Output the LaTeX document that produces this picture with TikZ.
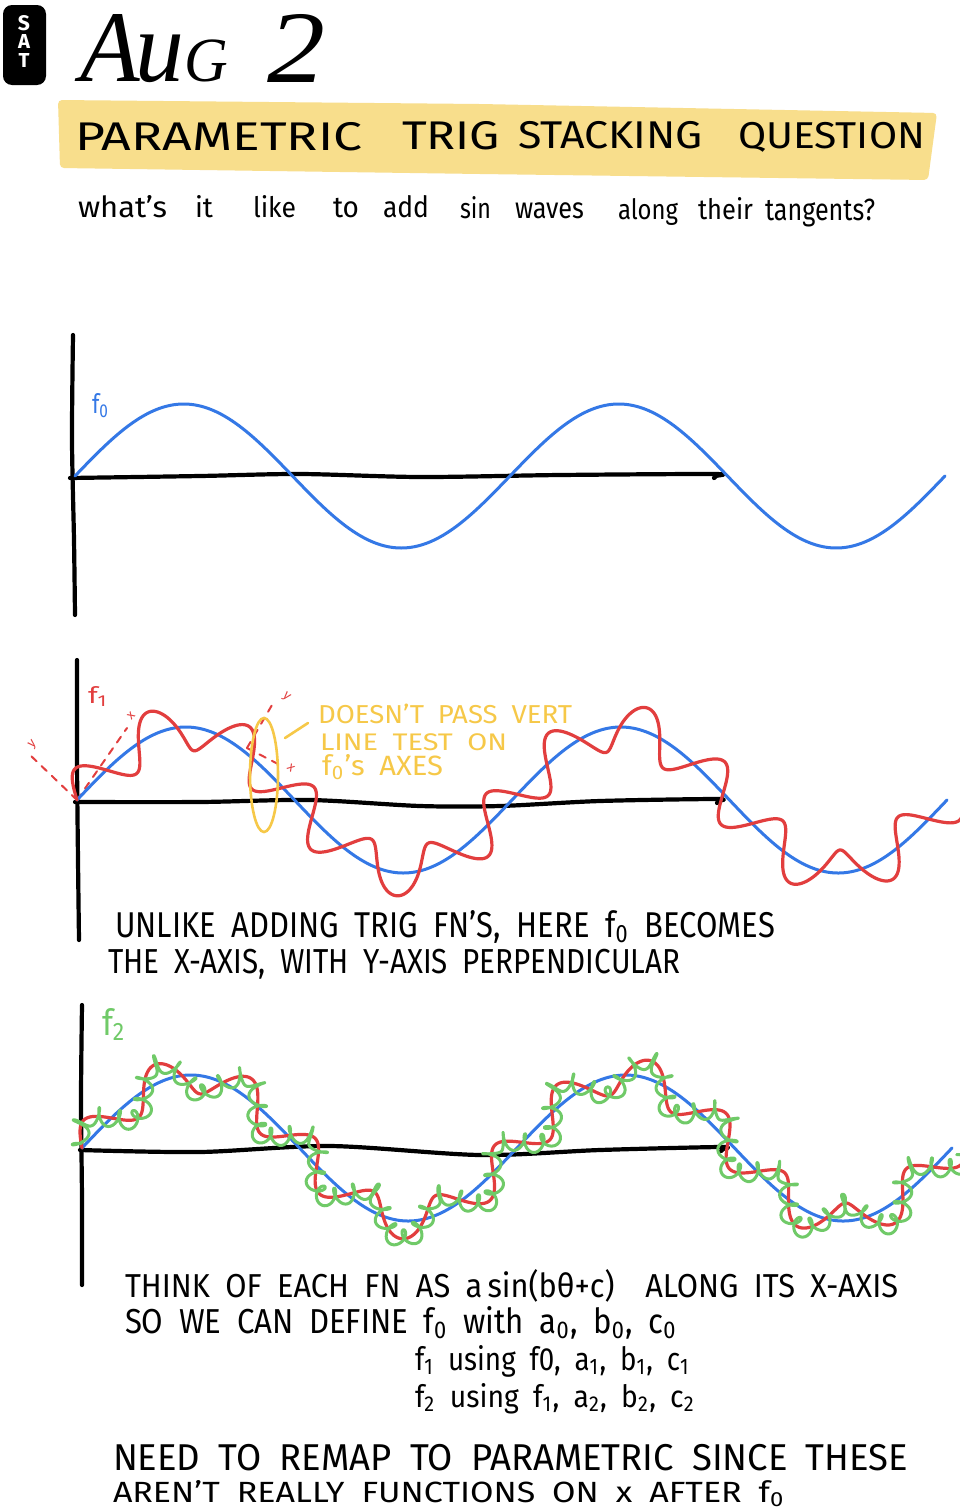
\documentclass[tikz,border=0pt]{standalone}
\usepackage{fontspec}
\usepackage{graphicx}
\setmainfont{Fira Sans}
\newfontfamily\datefont{Liberation Serif}
\definecolor{cblue}{RGB}{52,120,230}
\definecolor{cred}{RGB}{226,62,62}
\definecolor{cgreen}{RGB}{112,202,104}
\definecolor{cyellow}{RGB}{246,200,72}
\definecolor{chigh}{RGB}{248,222,140}

\newif\ifwfirst
\newcommand\hwt[3]{\resizebox{#1pt}{#2pt}{\spaceskip=0.5em\relax\vphantom{l}#3}}

\newcommand\wred{%
  \pgfmathsetmacro\wphone{\wsb/\wlone*360}%
  \pgfmathsetmacro\wh{\waone*sin(\wphone)}%
  \pgfmathsetmacro\whp{\waone*6.283185/\wlone*cos(\wphone)*\wL}%
  \pgfmathsetmacro\wRx{\wu-(\wh)*(\wg)/\wL}%
  \pgfmathsetmacro\wRy{\wv+(\wh)/\wL}%
}
\newcommand\wgreen{%
  \pgfmathsetmacro\wgp{-\wAkk*sin(\wth)}%
  \pgfmathsetmacro\wT{1-(\wh)*(\wgp)/(\wL*\wL*\wL)}%
  \pgfmathsetmacro\wDx{\wT-(\whp)*(\wg)/\wL}%
  \pgfmathsetmacro\wDy{\wT*(\wg)+(\whp)/\wL}%
  \pgfmathsetmacro\wsp{sqrt((\wDx)*(\wDx)+(\wDy)*(\wDy))}%
  \pgfmathsetmacro\wgr{\watwo*sin(\wph)/\wsp}%
  \pgfmathsetmacro\wgt{\wbtwo*cos(\wph)/\wsp}%
  \pgfmathsetmacro\wX{\wRx-(\wgr)*(\wDy)+(\wgt)*(\wDx)}%
  \pgfmathsetmacro\wY{\wRy+(\wgr)*(\wDx)+(\wgt)*(\wDy)}%
  \pgfmathsetmacro\wph{mod(\wph+\wsp*\wdu/\wltwo*360,360)}%
}
\newcommand\wavepath{%
  \pgfmathsetmacro\wAk{\wA*0.0144441}%
  \pgfmathsetmacro\wAkk{\wAk*0.0144441}%
  \def\wu{0}\def\wsb{0}\def\wph{0}%
  \wfirsttrue
  \loop
    \pgfmathsetmacro\wth{\wu*0.827586}%
    \pgfmathsetmacro\wv{\wA*sin(\wth)}%
    \pgfmathsetmacro\wg{\wAk*cos(\wth)}%
    \pgfmathsetmacro\wL{sqrt(1+(\wg)*(\wg))}%
    \ifcase\wmode\relax
      \let\wX\wu \let\wY\wv
    \or
      \wred \let\wX\wRx \let\wY\wRy
    \else
      \wred \wgreen
    \fi
    \ifwfirst\pgfpathmoveto{\pgfpoint{\wX pt}{\wY pt}}\wfirstfalse
    \else\pgfpathlineto{\pgfpoint{\wX pt}{\wY pt}}\fi
    \pgfmathsetmacro\wsb{\wsb+\wL*\wdu}%
    \pgfmathsetmacro\wu{\wu+\wdu}%
  \ifdim\wu pt<\wUend pt\relax
  \repeat
  \pgfusepath{stroke}%
}

\tikzset{
  axisline/.style={line width=4.2pt, line cap=round, line join=round, draw=black},
  txt/.style={anchor=base west, inner sep=0pt, outer sep=0pt},
  bluecurve/.style={color=cblue, line width=3pt, line cap=round, line join=round},
  redcurve/.style={color=cred, line width=3.2pt, line cap=round, line join=round},
  greencurve/.style={color=cgreen, line width=3pt, line cap=round, line join=round},
  reddash/.style={draw=cred, line width=2pt, dash pattern=on 7pt off 7pt, line cap=round},
  redlbl/.style={text=cred, inner sep=0pt, font=\fontsize{13}{13}\selectfont},
  yline/.style={draw=cyellow, line width=2.6pt, line cap=round},
}

\begin{document}
\begin{tikzpicture}[x=1pt, y=-1pt]
\useasboundingbox (0,0) rectangle (960,1510);
\fill[white] (0,0) rectangle (960,1510);

% ---------- header ----------
\fill[black, rounded corners=9pt] (3,5) rectangle (46,85);
\node[anchor=base, inner sep=0pt, text=white, font=\bfseries] (satS) at (24,30) {\resizebox{!}{15pt}{S}};
\node[anchor=base, inner sep=0pt, text=white, font=\bfseries] (satA) at (24,48) {\resizebox{!}{14pt}{A}};
\node[anchor=base, inner sep=0pt, text=white, font=\bfseries] (satT) at (24,67) {\resizebox{!}{14pt}{T}};
\node[txt] (aug) at (80,81) {\datefont\itshape\resizebox{148pt}{67pt}{A\kern-0.04em u\scalebox{0.62}{G}}};
\node[txt] (two) at (267,82) {\datefont\itshape\resizebox{58pt}{68pt}{2}};

\fill[chigh, rounded corners=4pt] (58,100) -- (480,104) -- (937,113) -- (928,180) -- (480,174) -- (60,168) -- cycle;
\node[txt] (t1) at (75,150) {\hwt{287}{30}{PARAMETRIC}};
\node[txt] (t2) at (402,149) {\hwt{98}{30}{TRIG}};
\node[txt] (t3) at (518,148) {\hwt{185}{29}{STACKING}};
\node[txt] (t4) at (738,148) {\hwt{187}{28}{QUESTION}};

\node[txt] (s1) at (78,217) {\hwt{89}{22}{what's}};
\node[txt] (s2) at (195,217) {\hwt{18}{22}{it}};
\node[txt] (s3) at (253,217) {\hwt{43}{22}{like}};
\node[txt] (s4) at (333,217) {\hwt{26}{22}{to}};
\node[txt] (s5) at (383,217) {\hwt{46}{22}{add}};
\node[txt] (s6) at (460,218) {\hwt{31}{22}{sin}};
\node[txt] (s7) at (515,218) {\hwt{69}{22}{waves}};
\node[txt] (s8) at (618,219) {\hwt{60}{21}{along}};
\node[txt] (s9) at (698,219) {\hwt{55}{22}{their}};
\node[txt] (s10) at (765,220) {\hwt{110}{23}{tangents?}};

% ---------- plot 1 ----------
\draw[axisline] plot[smooth] coordinates {(73,335) (72,440) (74,540) (75,615)};
\draw[axisline] plot[smooth] coordinates {(70,478) (200,476) (300,474) (420,477) (560,475) (713,474) (716,476) (714,478)};
\begin{scope}[shift={(75,476)}, bluecurve]
  \def\wA{72}\def\wUend{871}\def\wdu{2}\def\wmode{0}\wavepath
\end{scope}
\node[txt, text=cblue] (lf0) at (92,413) {\hwt{17}{20}{f\textsubscript{0}}};

% ---------- plot 2 ----------
\draw[axisline] plot[smooth] coordinates {(77,660) (77,760) (78,860) (79,940)};
\draw[axisline] plot[smooth] coordinates {(75,802) (200,802) (310,800) (420,806) (500,806) (600,801) (716,799) (719,801) (717,803)};
\coordinate (o2) at (77,800);
\coordinate (o2x) at (127,728);
\coordinate (o2y) at (30,755);
\coordinate (p2) at (247,748);
\coordinate (p2y) at (272,705);
\coordinate (p2x) at (282,766);
\draw[reddash] (o2) -- (o2x);
\draw[reddash] (o2) -- (o2y);
\draw[reddash] (p2) -- (p2y);
\draw[reddash] (p2) -- (p2x);
\node[redlbl, rotate=46] (lx1) at (131,716) {x};
\node[redlbl, rotate=46] (ly1) at (33,745) {y};
\node[redlbl, rotate=-41] (ly2) at (286,697) {y};
\node[redlbl, rotate=-41] (lx2) at (291,768) {x};
\begin{scope}[shift={(77,800)}, bluecurve]
  \def\wA{73}\def\wUend{871}\def\wdu{2}\def\wmode{0}\wavepath
\end{scope}
\begin{scope}[shift={(77,800)}, redcurve]
  \def\wA{73}\def\wUend{871}\def\wdu{1}\def\wmode{1}%
  \def\waone{23}\def\wlone{84}\wavepath
\end{scope}
\node[txt, text=cred] (lf1) at (88,703) {\hwt{20}{17}{f\textsubscript{1}}};
\draw[yline] (264,775) ellipse [x radius=14, y radius=57];
\draw[yline] (285,738) -- (308,723);
\node[txt, text=cyellow] (y1) at (318,723) {\hwt{254}{19.5}{DOESN'T PASS VERT}};
\node[txt, text=cyellow] (y2) at (320,750) {\hwt{187}{18}{LINE TEST ON}};
\node[txt, text=cyellow] (y3) at (322,775) {\hwt{121}{21}{f\textsubscript{0}'s AXES}};

\node[txt] (u1) at (115,937) {\hwt{660}{27}{UNLIKE ADDING TRIG FN'S, HERE f\textsubscript{0} BECOMES}};
\node[txt] (u2) at (108,973) {\hwt{572}{26}{THE X-AXIS, WITH Y-AXIS PERPENDICULAR}};

% ---------- plot 3 ----------
\draw[axisline] plot[smooth] coordinates {(82,1005) (81,1100) (82,1200) (82,1285)};
\draw[axisline] plot[smooth] coordinates {(80,1150) (200,1152) (330,1146) (480,1155) (600,1150) (720,1147) (723,1149) (721,1151)};
\begin{scope}[shift={(82,1148)}, bluecurve]
  \def\wA{73}\def\wUend{871}\def\wdu{2}\def\wmode{0}\wavepath
\end{scope}
\begin{scope}[shift={(82,1148)}, redcurve]
  \def\wA{73}\def\wUend{871}\def\wdu{1}\def\wmode{1}%
  \def\waone{18}\def\wlone{84}\wavepath
\end{scope}
\begin{scope}[shift={(82,1148)}, greencurve]
  \def\wA{73}\def\wUend{871}\def\wdu{0.4}\def\wmode{2}%
  \def\waone{18}\def\wlone{84}\def\watwo{9}\def\wbtwo{4.5}\def\wltwo{20}\wavepath
\end{scope}
\node[txt, text=cgreen] (lf2) at (102,1035) {\hwt{24}{27}{f\textsubscript{2}}};

\node[txt] (k1) at (125,1297) {\hwt{773}{28}{THINK OF EACH FN AS a\,sin(bθ+c)\hspace{1em}ALONG ITS X-AXIS}};
\node[txt] (k2) at (125,1333) {\hwt{552}{27}{SO WE CAN DEFINE f\textsubscript{0} with a\textsubscript{0}, b\textsubscript{0}, c\textsubscript{0}}};
\node[txt] (k3) at (415,1370) {\hwt{275}{25}{f\textsubscript{1} using f0, a\textsubscript{1}, b\textsubscript{1}, c\textsubscript{1}}};
\node[txt] (k4) at (415,1407) {\hwt{280}{24}{f\textsubscript{2} using f\textsubscript{1}, a\textsubscript{2}, b\textsubscript{2}, c\textsubscript{2}}};

\node[txt] (n1) at (113,1470) {\hwt{795}{28}{NEED TO REMAP TO PARAMETRIC SINCE THESE}};
\node[txt] (n2) at (113,1502) {\hwt{672}{22}{AREN'T REALLY FUNCTIONS ON x AFTER f\textsubscript{0}}};
\end{tikzpicture}
\end{document}
